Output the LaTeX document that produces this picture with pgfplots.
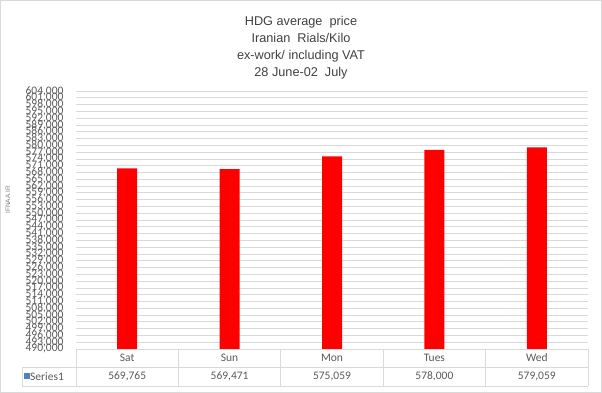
\documentclass[border=0pt]{standalone}
\usepackage{fontspec}
\setmainfont{Liberation Sans}
\newfontfamily\calfont{Carlito}
\usepackage{pgfplots}
\pgfplotsset{compat=1.18}
\definecolor{gridgray}{HTML}{D9D9D9}
\definecolor{txtgray}{HTML}{595959}
\definecolor{ttlgray}{HTML}{404040}
\definecolor{serblue}{HTML}{4F81BD}
\begin{document}
\begin{tikzpicture}[x=1pt,y=1pt]
\useasboundingbox (0,0) rectangle (602,393);
\draw[gridgray] (0.5,0.5) rectangle (601.5,392.5);
\node[align=center, text=ttlgray, font=\fontsize{12.7}{17}\selectfont] at (301,345.6)
  {HDG average\ \ price\\Iranian\ \ Rials/Kilo\\ex-work/ including VAT\\28 June-02\ \ July};
\node[rotate=90, text=gray, font=\fontsize{6.5}{7}\selectfont] at (8,193) {IFNAA.IR};
\begin{axis}[at={(76pt,44pt)}, anchor=south west, scale only axis,
  width=512pt, height=258pt,
  ybar, bar width=20pt,
  xmin=-0.5, xmax=4.5, ymin=490000, ymax=604000,
  ytick={490000,493000,496000,499000,502000,505000,508000,511000,514000,517000,
         520000,523000,526000,529000,532000,535000,538000,541000,544000,547000,
         550000,553000,556000,559000,562000,565000,568000,571000,574000,577000,
         580000,583000,586000,589000,592000,595000,598000,601000,604000},
  scaled y ticks=false,
  yticklabel style={/pgf/number format/fixed, /pgf/number format/precision=0,
     /pgf/number format/1000 sep={,},
     /pgf/number format/assume math mode=true,
     font=\calfont\fontsize{11.5}{12}\selectfont, text=txtgray, xshift=-9pt},
  xtick={0,1,2,3,4}, xticklabels={Sat,Sun,Mon,Tues,Wed},
  xticklabel style={font=\calfont\fontsize{11.5}{12}\selectfont, text=txtgray,
     anchor=center, yshift=-9pt, text height=7pt, text depth=0pt},
  extra x ticks={0,1,2,3,4},
  extra x tick labels={{569,765},{569,471},{575,059},{578,000},{579,059}},
  extra x tick style={grid=none, xticklabel style={yshift=-18.5pt}},
  ymajorgrids, xmajorgrids=false, grid style={gridgray, line width=0.75pt},
  axis line style={draw=none}, major tick length=0pt,
  clip=false]
\addplot[fill=red, draw=none] coordinates {(0,569765) (1,569471) (2,575059) (3,578000) (4,579059)};
\end{axis}
\draw[gridgray, line width=0.75pt] (76,44)--(588,44) (22,26)--(588,26) (22,7)--(588,7);
\draw[gridgray, line width=0.75pt] (22,26)--(22,7);
\foreach \xx in {76,178.4,280.8,383.2,485.6,588} {\draw[gridgray, line width=0.75pt] (\xx,44)--(\xx,7);}
\fill[serblue] (23.5,13.5) rectangle (29.5,19.5);
\node[anchor=west, inner sep=0pt, text=txtgray, font=\calfont\fontsize{11.5}{12}\selectfont] at (30,16.5) {Series1};
\end{tikzpicture}
\end{document}
